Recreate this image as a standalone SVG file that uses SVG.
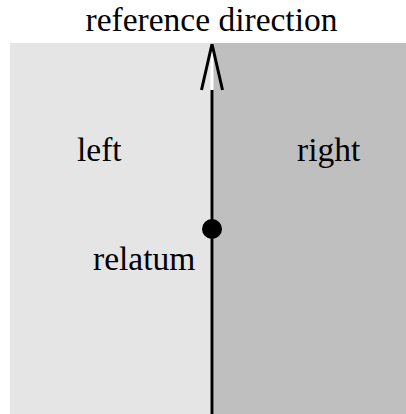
<svg xmlns="http://www.w3.org/2000/svg" width="406" height="414" viewBox="0 0 406 414">
<style>
text{font-family:"Liberation Serif","Times New Roman",serif;font-size:33.5px;fill:#000}
.ln{stroke:#000;stroke-width:3;fill:none}
</style>
<rect width="406" height="414" fill="#fff"/>
<g id="left-region"><rect x="10" y="43" width="200.5" height="371" fill="#e5e5e5"/><text x="77" y="161">left</text></g>
<g id="right-region"><rect x="213.5" y="43" width="192.5" height="371" fill="#bfbfbf"/><text x="297" y="161">right</text></g>
<g id="connectors">
<line class="ln" x1="212" y1="90" x2="212" y2="414"/>
<polyline class="ln" points="201.5,90 212,44 222.5,90"/>
</g>
<g id="relatum"><circle cx="212" cy="229" r="10" fill="#000"/><text x="93" y="270">relatum</text></g>
<g id="title"><text x="211.5" y="31" text-anchor="middle">reference direction</text></g>
</svg>
